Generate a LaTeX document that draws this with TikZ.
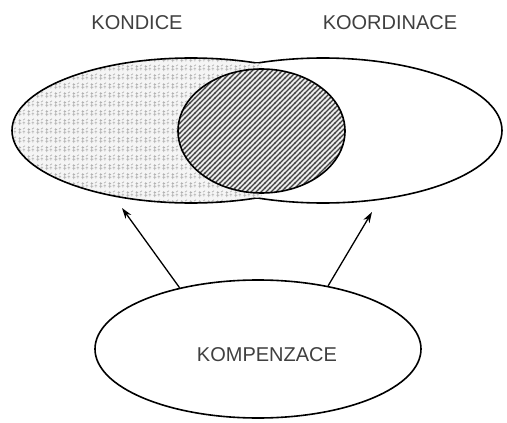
\documentclass[tikz,border=0pt]{standalone}
\usepackage{fontspec}
\setmainfont{Liberation Sans}
\usetikzlibrary{shapes.geometric,patterns,arrows.meta}
\pgfdeclarepatternformonly{hatchlines}{\pgfqpoint{-1pt}{-1pt}}{\pgfqpoint{6pt}{6pt}}{\pgfqpoint{5pt}{5pt}}{%
  \pgfsetlinewidth{1.1pt}%
  \pgfpathmoveto{\pgfqpoint{-0.5pt}{-0.5pt}}\pgfpathlineto{\pgfqpoint{5.5pt}{5.5pt}}\pgfusepath{stroke}}
\pgfdeclarepatternformonly{glyphtex}{\pgfqpoint{0pt}{0pt}}{\pgfqpoint{9pt}{9pt}}{\pgfqpoint{9pt}{9pt}}{%
  \pgfsetlinewidth{0.75pt}%
  \pgfpathmoveto{\pgfqpoint{2pt}{1pt}}\pgfpathlineto{\pgfqpoint{2pt}{7.5pt}}%
  \pgfpathmoveto{\pgfqpoint{0.5pt}{3pt}}\pgfpathlineto{\pgfqpoint{3.8pt}{3pt}}%
  \pgfpathmoveto{\pgfqpoint{0.8pt}{6pt}}\pgfpathlineto{\pgfqpoint{3.5pt}{6pt}}%
  \pgfpathmoveto{\pgfqpoint{6.5pt}{1.5pt}}\pgfpathlineto{\pgfqpoint{6.5pt}{5pt}}%
  \pgfpathmoveto{\pgfqpoint{5pt}{3.5pt}}\pgfpathlineto{\pgfqpoint{8pt}{3.5pt}}%
  \pgfpathmoveto{\pgfqpoint{5.5pt}{6.5pt}}\pgfpathlineto{\pgfqpoint{7.8pt}{8pt}}%
  \pgfusepath{stroke}}
\begin{document}
\begin{tikzpicture}[x=1pt,y=-1pt,
  lbl/.style={font=\fontsize{20}{24}\selectfont, text=black!75},
  outline/.style={line width=1.6pt},
  arr/.style={line width=1.3pt,-{Stealth[length=11pt,width=7pt]}},
  leftell/.style={x radius=179pt, y radius=72.5pt},
  rightell/.style={x radius=179pt, y radius=72.5pt},
  midell/.style={x radius=83.5pt, y radius=62pt}]
\useasboundingbox (0,0) rectangle (507,423);
\fill[white] (0,0) rectangle (507,423);
% textured left set
\fill[gray!8] (191,130.5) ellipse [leftell];
\fill[pattern=glyphtex, pattern color=gray!60] (191,130.5) ellipse [leftell];
\begin{scope}
  \clip (262,0) rectangle (507,423);
  \fill[white] (323,130.5) ellipse [rightell];
\end{scope}
% hatched intersection
\fill[gray!15] (261.5,131) ellipse [midell];
\fill[pattern=hatchlines, pattern color=black!75] (261.5,131) ellipse [midell];
\draw[outline] (261.5,131) ellipse [midell];
% outer outlines
\begin{scope}[even odd rule]
  \clip (0,0) rectangle (507,423) (323,130.5) ellipse [rightell];
  \draw[outline] (191,130.5) ellipse [leftell];
\end{scope}
\begin{scope}[even odd rule]
  \clip (0,0) rectangle (507,423) (191,130.5) ellipse [leftell];
  \draw[outline] (323,130.5) ellipse [rightell];
\end{scope}
% labels
\node[lbl] (kondice) at (137,23) {KONDICE};
\node[lbl] (koordinace) at (390,23) {KOORDINACE};
% bottom set
\node[draw, ellipse, outline, minimum width=326pt, minimum height=138pt, inner sep=0pt] (kompenzace) at (258,349) {};
\node[lbl] (kompText) at (267,355) {KOMPENZACE};
\coordinate (tipL) at (122,208);
\coordinate (tipR) at (372,212);
\draw[arr] (kompenzace.142) -- (tipL);
\draw[arr] (kompenzace.42.8) -- (tipR);
\end{tikzpicture}
\end{document}
